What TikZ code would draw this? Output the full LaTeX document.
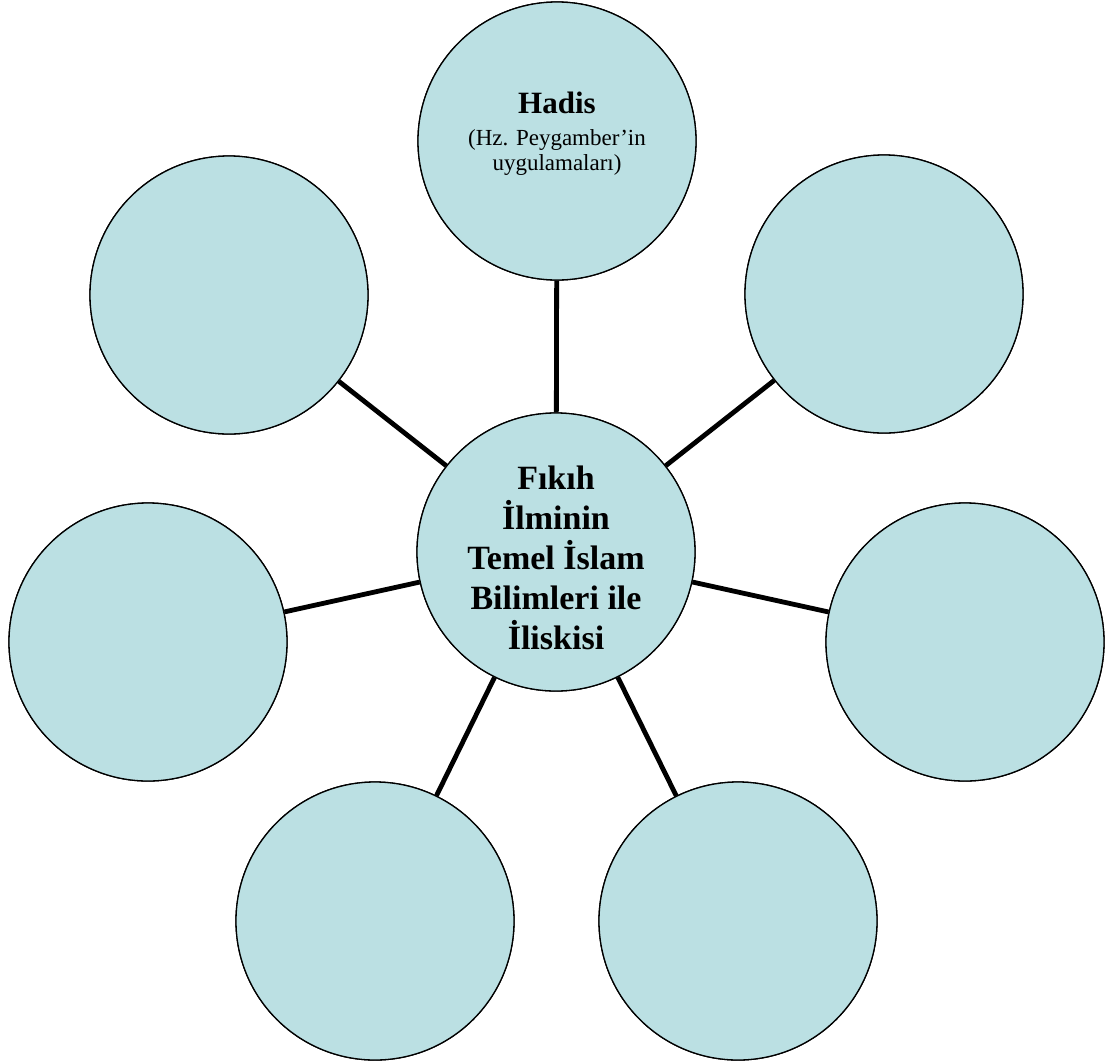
\documentclass[tikz,border=0pt]{standalone}
\usepackage{fontspec}
\setmainfont{Liberation Serif}
\definecolor{bubble}{HTML}{BBE0E3}
\tikzset{
  bubble/.style={circle, draw=black, line width=1.3pt, fill=bubble, minimum size=278pt, inner sep=0pt},
  link/.style={line width=4.8pt},
  lbl/.style={align=center, inner sep=0pt}
}
\begin{document}
\begin{tikzpicture}[x=1pt,y=-1pt]
\useasboundingbox (0,0) rectangle (1108,1061);
\node[bubble] (top) at (557,141) {};
\node[bubble] (tl) at (229,295) {};
\node[bubble] (tr) at (884,294) {};
\node[bubble] (l) at (148,642) {};
\node[bubble] (r) at (965,642) {};
\node[bubble] (bl) at (375,921) {};
\node[bubble] (br) at (738,921) {};
\node[bubble] (c) at (556,552) {};
\foreach \n in {top,tl,tr,l,r,bl,br} \draw[link] (c) -- (\n);
\foreach \n in {top,tl,tr,l,r,bl,br,c} \node[bubble] at (\n) {};
\node[lbl, font=\fontsize{23}{25}\selectfont] (hadis) at (557,134) {{\fontsize{31}{32}\selectfont\bfseries Hadis}\\[7pt](Hz. Peygamber’in\\uygulamaları)};
\node[lbl, font=\fontsize{34}{40}\selectfont\bfseries] (ctext) at (556,558) {Fıkıh\\İlminin\\Temel İslam\\Bilimleri ile\\İliskisi};
\end{tikzpicture}
\end{document}
